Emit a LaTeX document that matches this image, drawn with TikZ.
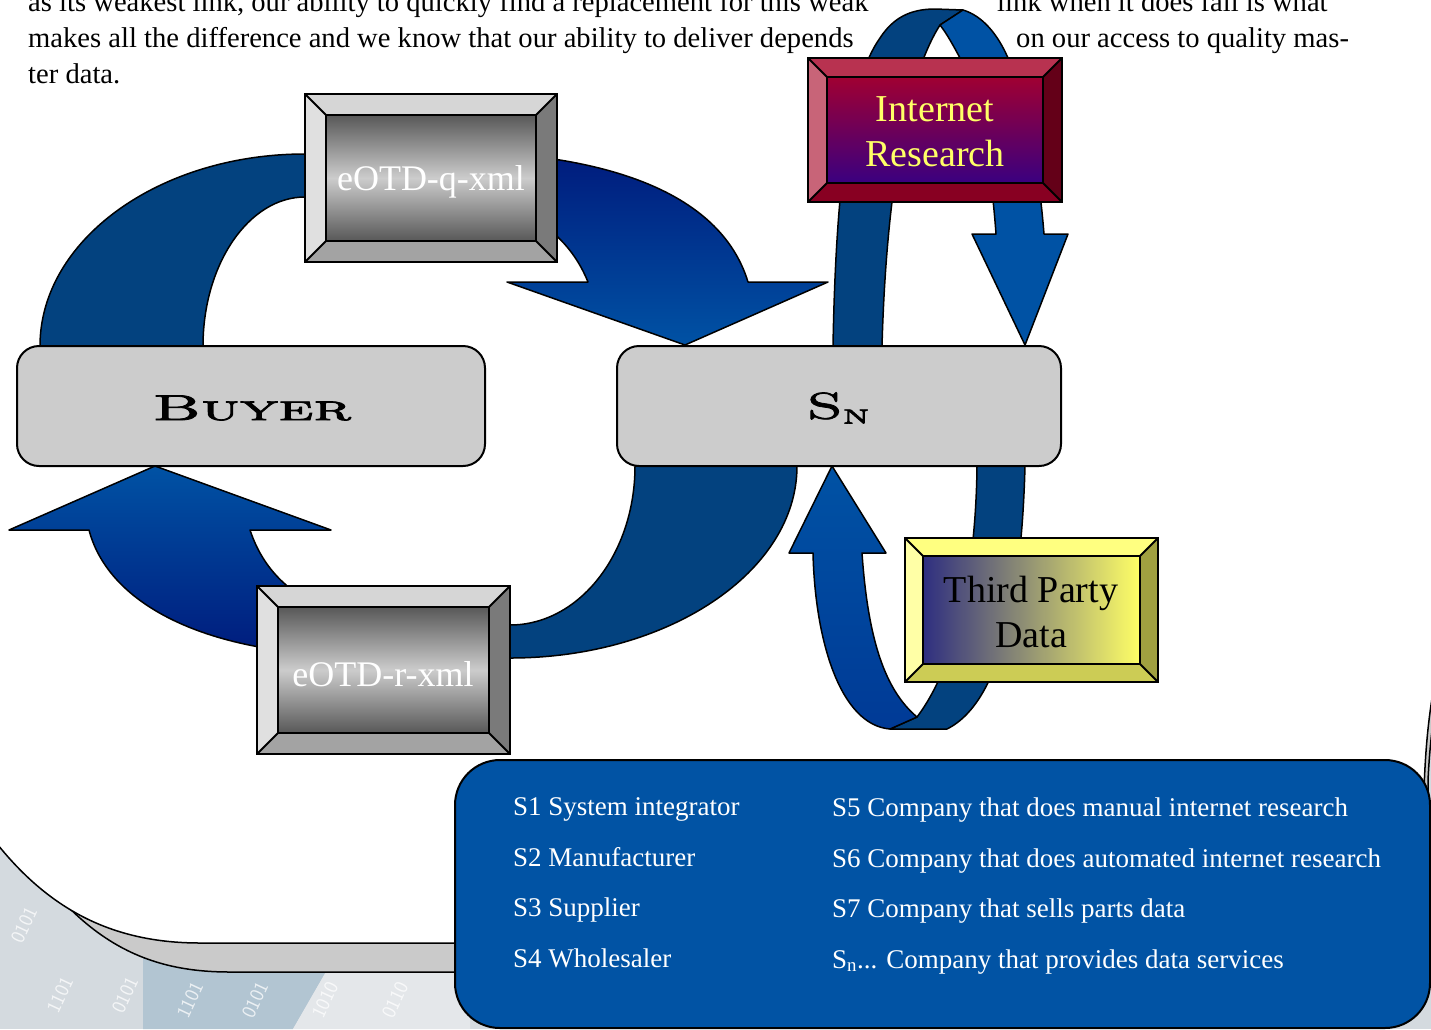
\documentclass[tikz,border=0pt]{standalone}
\usepackage{graphicx}
\usepackage{fontspec}
\setmainfont{Liberation Serif}
\newfontfamily\capsfont[FakeBold=2]{lmromancaps10-regular.otf}
\usetikzlibrary{calc}
\definecolor{darkarrow}{RGB}{3,66,127}
\definecolor{lightarrow}{RGB}{0,82,164}
\definecolor{navyarrow}{RGB}{0,26,124}
\definecolor{deepfront}{RGB}{0,58,150}
\definecolor{legendblue}{RGB}{1,83,164}
\definecolor{boxgray}{RGB}{204,204,204}
\definecolor{bgA}{RGB}{212,218,223}
\definecolor{bgB}{RGB}{178,197,210}
\definecolor{bgC}{RGB}{228,231,234}
\definecolor{shadowgray}{RGB}{202,202,202}
\definecolor{eotdtop}{RGB}{214,214,214}
\definecolor{eotdleft}{RGB}{224,224,224}
\definecolor{eotdright}{RGB}{122,122,122}
\definecolor{eotdbot}{RGB}{163,163,163}
\definecolor{eotdface}{RGB}{88,88,88}
\definecolor{eotdmid}{RGB}{204,204,204}
\definecolor{irtop}{RGB}{184,50,80}
\definecolor{irleft}{RGB}{200,100,120}
\definecolor{irright}{RGB}{100,0,24}
\definecolor{irbot}{RGB}{136,0,34}
\definecolor{irfacetop}{RGB}{160,0,50}
\definecolor{irfacebot}{RGB}{58,0,128}
\definecolor{tptop}{RGB}{255,255,128}
\definecolor{tpleft}{RGB}{255,255,166}
\definecolor{tpright}{RGB}{160,160,64}
\definecolor{tpbot}{RGB}{204,204,85}
\definecolor{tpfaceleft}{RGB}{46,46,128}
\definecolor{tpfaceright}{RGB}{255,255,102}
\definecolor{irtext}{RGB}{255,255,102}
\tikzset{
  boxline/.style={draw=black,line width=2pt},
  arrowline/.style={draw=black,line width=1.5pt,line join=round},
  pagetext/.style={anchor=base west,inner sep=0pt,font=\fontsize{28.6}{33}\selectfont},
  legtext/.style={anchor=base west,inner sep=0pt,text=white,font=\fontsize{27}{31}\selectfont},
  rbox/.style={draw=black,line width=2pt,fill=boxgray,rounded corners=22pt,inner sep=0pt},
  digits/.style={text=white,opacity=0.75,rotate=65,inner sep=0pt,font=\sffamily\fontsize{20}{20}\selectfont},
}
% #1 x1, #2 y1, #3 x2, #4 y2, #5 bevel, #6 colour prefix, #7 face shading options
\newcommand\bevelbox[7]{%
  \fill[#6top] (#1,#2) -- (#3,#2) -- ({#3-#5},{#2+#5}) -- ({#1+#5},{#2+#5}) -- cycle;
  \fill[#6left] (#1,#2) -- ({#1+#5},{#2+#5}) -- ({#1+#5},{#4-#5}) -- (#1,#4) -- cycle;
  \fill[#6right] (#3,#2) -- (#3,#4) -- ({#3-#5},{#4-#5}) -- ({#3-#5},{#2+#5}) -- cycle;
  \fill[#6bot] (#1,#4) -- (#3,#4) -- ({#3-#5},{#4-#5}) -- ({#1+#5},{#4-#5}) -- cycle;
  \shade[#7] ({#1+#5},{#2+#5}) rectangle ({#3-#5},{#4-#5});
  \draw[boxline] (#1,#2) rectangle (#3,#4);
  \draw[boxline] ({#1+#5},{#2+#5}) rectangle ({#3-#5},{#4-#5});
  \draw[boxline] (#1,#2) -- ({#1+#5},{#2+#5}) (#3,#2) -- ({#3-#5},{#2+#5})
                 (#1,#4) -- ({#1+#5},{#4-#5}) (#3,#4) -- ({#3-#5},{#4-#5});
}
\begin{document}
\begin{tikzpicture}[x=1pt,y=-1pt]
\useasboundingbox (0,0) rectangle (1431,1029);
\clip (0,0) rectangle (1431,1029);
% ---------- background ----------
\fill[bgA] (0,0) rectangle (1431,1029);
\fill[bgB] (143,930) -- (350,930) -- (293,1029) -- (143,1029) -- cycle;
\fill[bgC] (350,930) -- (470,930) -- (470,1029) -- (293,1029) -- cycle;
\node[digits] (d1) at (24,925) {0101};
\node[digits] (d2) at (60,995) {1101};
\node[digits] (d3) at (125,995) {0101};
\node[digits] (d4) at (190,1000) {1101};
\node[digits] (d5) at (255,1000) {0101};
\node[digits] (d6) at (325,1000) {1010};
\node[digits] (d7) at (395,1000) {0110};
% ---------- page and shadow ----------
\path[draw=black,line width=1.5pt,fill=shadowgray] (-20,780) .. controls (60,930) and (130,972) .. (230,972)
  -- (1428,972) -- (1428,780) .. controls (1430,740) and (1434,700) .. (1450,640) -- (1450,-20) -- (-20,-20) -- cycle;
\path[draw=black,line width=1.5pt,fill=white] (-40,790) .. controls (20,890) and (90,943) .. (200,943)
  -- (1424,943) -- (1424,790) .. controls (1426,730) and (1432,680) .. (1450,620) -- (1450,-20) -- (-40,-20) -- cycle;
% ---------- running text ----------
\node[pagetext] (t1) at (28,11) {as its weakest link, our ability to quickly find a replacement for this weak};
\node[pagetext] (t1b) at (997,11) {link when it does fail is what};
\node[pagetext] (t2) at (28,47) {makes all the difference and we know that our ability to deliver depends};
\node[pagetext] (t2b) at (1016,47) {on our access to quality mas-};
\node[pagetext] (t3) at (28,83) {ter data.};
% ---------- top loop (Internet Research) ----------
\path[arrowline,fill=darkarrow] (833,346) .. controls (836,180) and (850,80) .. (880,38)
  .. controls (893,18) and (910,9) .. (935,9) -- (963,10) -- (940,25)
  .. controls (905,80) and (886,200) .. (882,346) -- cycle;
\path[arrowline,fill=lightarrow] (940,25) -- (963,10) .. controls (983,16) and (998,35) .. (1008,58)
  .. controls (1026,100) and (1038,160) .. (1044,234) -- (1068,234) -- (1025,345) -- (972,234) -- (996,234)
  .. controls (990,150) and (975,85) .. (960,58) .. controls (953,45) and (947,34) .. (940,25) -- cycle;
% ---------- q arrow (Buyer -> Sn) ----------
\path[arrowline,fill=darkarrow] (40,346) .. controls (40,240) and (159,154) .. (305,154) -- (440,154)
  -- (440,197) -- (305,197) .. controls (249,197) and (203,264) .. (203,346) -- cycle;
\path[arrowline,top color=navyarrow,bottom color=lightarrow] (430,151) .. controls (600,150) and (720,190) .. (748,282)
  -- (828,282) -- (685,345) -- (507,282) -- (588,282) .. controls (565,225) and (510,195) .. (430,195) -- cycle;
% ---------- r arrow (Sn -> Buyer) ----------
\path[arrowline,fill=darkarrow] (797,466) .. controls (797,572) and (668,658) .. (510,658) -- (400,658)
  -- (400,625) -- (510,625) .. controls (579,625) and (635,554) .. (635,466) -- cycle;
\path[arrowline,top color=lightarrow,bottom color=navyarrow] (89,530) -- (9,530) -- (155,466) -- (331,530) -- (250,530)
  .. controls (265,575) and (300,610) .. (380,625) -- (380,655) .. controls (220,660) and (110,610) .. (89,530) -- cycle;
% ---------- bottom loop (Third Party Data) ----------
\path[arrowline,fill=darkarrow] (977,466) -- (1025,466) .. controls (1022,580) and (1005,700) .. (947,729)
  -- (890,729) -- (917,717) .. controls (960,660) and (976,560) .. (977,466) -- cycle;
\path[arrowline,top color=lightarrow,bottom color=deepfront] (832,466) -- (886,553) -- (862,553)
  .. controls (868,640) and (885,690) .. (917,717) -- (890,729)
  .. controls (840,725) and (815,640) .. (813,553) -- (789,553) -- cycle;
% ---------- main boxes ----------
\node[rbox,minimum width=468pt,minimum height=120pt] (buyer) at (251,406) {};
\node (buyertext) at (252,408) {\capsfont\fontsize{36}{36}\selectfont\scalebox{1.75}[1]{Buyer}};
\node[rbox,minimum width=444pt,minimum height=120pt] (sn) at (839,406) {};
\node (sntext) at (838,408) {\capsfont\fontsize{37}{37}\selectfont\scalebox{1.6}[1]{S\raisebox{-5pt}{\fontsize{27}{27}\selectfont n}}};
% ---------- bevel boxes ----------
\bevelbox{305}{94}{557}{262}{21}{eotd}{top color=eotdface,bottom color=eotdface,middle color=eotdmid}
\node[text=white,font=\fontsize{36}{40}\selectfont] (eq) at (431,182) {eOTD-q-xml};
\bevelbox{257}{586}{510}{754}{21}{eotd}{top color=eotdface,bottom color=eotdface,middle color=eotdmid}
\node[text=white,font=\fontsize{36}{40}\selectfont] (er) at (383,674) {eOTD-r-xml};
\bevelbox{808}{58}{1062}{202}{19}{ir}{top color=irfacetop,bottom color=irfacebot}
\node[text=irtext,align=center,font=\fontsize{38}{45}\selectfont] (ir) at (935,132) {Internet\\Research};
\bevelbox{905}{538}{1158}{682}{18}{tp}{left color=tpfaceleft,right color=tpfaceright}
\node[text=black,align=center,font=\fontsize{38}{45}\selectfont] (tp) at (1031,612) {Third Party\\Data};
% ---------- legend ----------
\node[draw=black,line width=2pt,fill=legendblue,rounded corners=45pt,minimum width=975pt,minimum height=268pt,inner sep=0pt] (legend) at (942.5,894) {};
\node[legtext] (l1) at (513,815) {S1 System integrator};
\node[legtext] (l2) at (513,866) {S2 Manufacturer};
\node[legtext] (l3) at (513,916) {S3 Supplier};
\node[legtext] (l4) at (513,967) {S4 Wholesaler};
\node[legtext] (l5) at (832,816) {S5 Company that does manual internet research};
\node[legtext] (l6) at (832,867) {S6 Company that does automated internet research};
\node[legtext] (l7) at (832,917) {S7 Company that sells parts data};
\node[legtext] (l8) at (832,968) {S\textsubscript{n}... Company that provides data services};
\end{tikzpicture}
\end{document}
